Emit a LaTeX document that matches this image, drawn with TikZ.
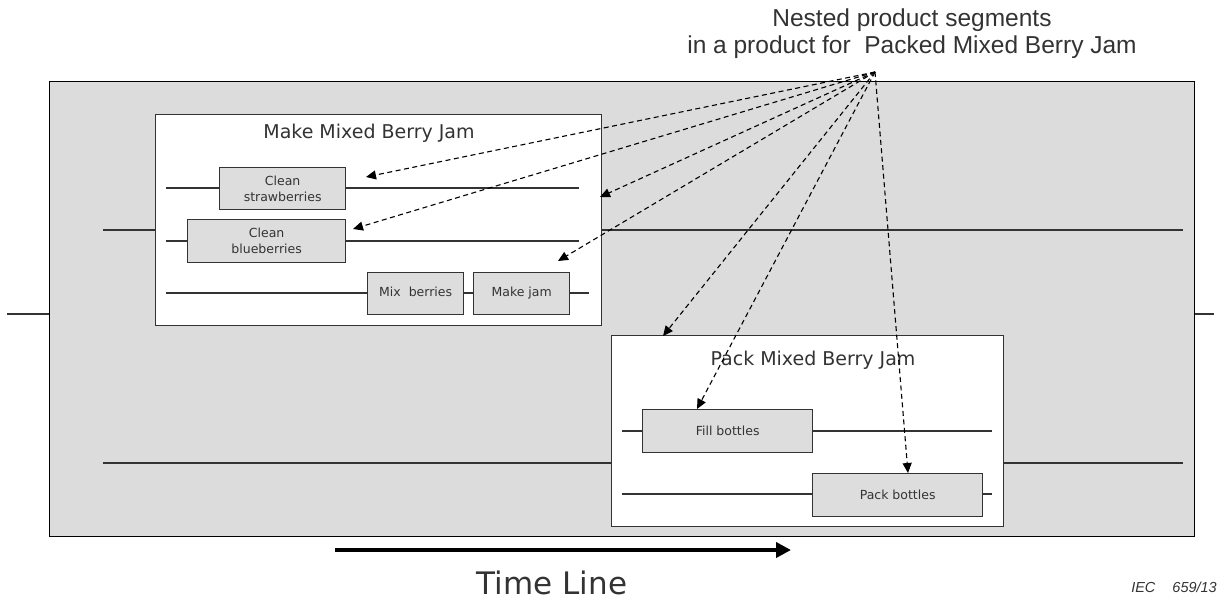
\documentclass[tikz,border=0pt]{standalone}
\usepackage{fontspec}
\setmainfont{Liberation Sans}
\newfontfamily\tah{DejaVu Sans}
\usetikzlibrary{arrows.meta}
\definecolor{bgray}{HTML}{DCDCDC}
\definecolor{boxgray}{HTML}{DDDDDD}
\definecolor{ink}{HTML}{333333}
\tikzset{
  flow/.style={draw=ink, line width=1.3pt},
  outer/.style={draw=black, line width=1.4pt, fill=bgray},
  stage/.style={draw=ink, line width=1.4pt, fill=white, anchor=north west, inner sep=0pt},
  stagetitle/.style={text=ink, font=\tah\fontsize{19}{21}\selectfont, inner sep=0pt},
  taskbox/.style={draw=ink, line width=1.3pt, fill=boxgray, anchor=north west, inner sep=0pt,
     text=ink, align=center, font=\tah\fontsize{12.5}{16}\selectfont},
  ptr/.style={draw=black, line width=1.1pt, dash pattern=on 5pt off 3.5pt, -{Triangle[length=10pt,width=9pt]}},
}
\begin{document}
\begin{tikzpicture}[x=1pt,y=-1pt]
\useasboundingbox (0,0) rectangle (1226,606);

% outer gray process
\node[outer, anchor=north west, minimum width=1145pt, minimum height=455pt, inner sep=0pt] (proc) at (49,81) {};
\coordinate (inL) at (7,314);
\coordinate (inR) at (1214,314);
\draw[flow] (inL) -- (proc.west |- inL);
\draw[flow] (proc.east |- inR) -- (inR);

% long lanes
\coordinate (la1) at (103,230); \coordinate (lb1) at (1183,230);
\coordinate (la2) at (103,463); \coordinate (lb2) at (1183,463);
\draw[flow] (la1) -- (lb1);
\draw[flow] (la2) -- (lb2);

% stage boxes
\node[stage, minimum width=446pt, minimum height=211pt] (make) at (155,114) {};
\node[stagetitle] (maket) at (369,133) {Make Mixed Berry Jam};
\node[stage, minimum width=392pt, minimum height=191pt] (pack) at (611,335) {};
\node[stagetitle] (packt) at (813,360) {Pack Mixed Berry Jam};

% tasks in make
\node[taskbox, minimum width=126pt, minimum height=42pt] (cs) at (219,167) {Clean\\strawberries};
\node[taskbox, minimum width=158pt, minimum height=43pt] (cb) at (187,219) {Clean\\blueberries};
\node[taskbox, minimum width=96pt, minimum height=42pt, text height=9pt, text depth=3pt] (mix) at (367,272) {Mix\ \ berries};
\node[taskbox, minimum width=96pt, minimum height=42pt, text height=9pt, text depth=3pt] (jam) at (473,272) {Make jam};
\coordinate (r1a) at (166,188); \coordinate (r1b) at (579,188);
\coordinate (r2a) at (166,241); \coordinate (r2b) at (579,241);
\coordinate (r3a) at (166,293); \coordinate (r3b) at (589,293);
\draw[flow] (r1a) -- (cs.west |- r1a);
\draw[flow] (cs.east |- r1a) -- (r1b);
\draw[flow] (r2a) -- (cb.west |- r2a);
\draw[flow] (cb.east |- r2a) -- (r2b);
\draw[flow] (r3a) -- (mix.west |- r3a);
\draw[flow] (mix.east |- r3a) -- (jam.west |- r3a);
\draw[flow] (jam.east |- r3a) -- (r3b);

% tasks in pack
\node[taskbox, minimum width=170pt, minimum height=43pt] (fill) at (642,409) {Fill bottles};
\node[taskbox, minimum width=170pt, minimum height=43pt] (pb) at (812,473) {Pack bottles};
\coordinate (p1a) at (622,431); \coordinate (p1b) at (992,431);
\coordinate (p2a) at (622,494); \coordinate (p2b) at (992,494);
\draw[flow] (p1a) -- (fill.west |- p1a);
\draw[flow] (fill.east |- p1a) -- (p1b);
\draw[flow] (p2a) -- (pb.west |- p2a);
\draw[flow] (pb.east |- p2a) -- (p2b);

% caption and pointers
\node[align=center, text=ink, font=\fontsize{24.5}{27}\selectfont, inner sep=0pt] (cap) at (912,34)
  {Nested product segments\\in a product for\ \ Packed Mixed Berry Jam};
\coordinate (src) at (875,72);
\coordinate (t1) at (366,177);
\coordinate (t2) at (353,229);
\coordinate (t3) at (600,197);
\coordinate (t4) at (558,261);
\coordinate (t5) at (663,336);
\coordinate (t6) at (697,409);
\coordinate (t7) at (908,473);
\foreach \t in {t1,t2,t3,t4,t5,t6,t7} \draw[ptr] (src) -- (\t);

% time line
\coordinate (tla) at (335,550);
\coordinate (tlb) at (791,550);
\draw[line width=4.5pt, -{Triangle[length=15pt,width=15pt]}] (tla) -- (tlb);
\node[text=ink, font=\tah\fontsize{31}{33}\selectfont, inner sep=0pt] (tl) at (552,583) {Time Line};

\node[font=\itshape\fontsize{14.5}{16}\selectfont, text=ink, anchor=east, inner sep=0pt] (iec) at (1217,587) {IEC\hspace{17pt}659/13};
\end{tikzpicture}
\end{document}
